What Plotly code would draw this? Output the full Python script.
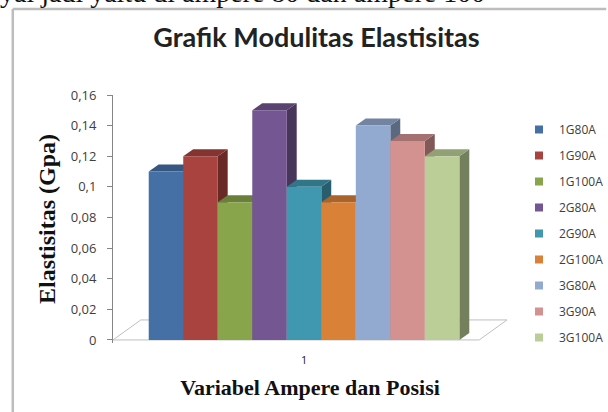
import plotly.graph_objects as go

# ---------------- data ----------------
categories = ["1"]
series_names = ["1G80A", "1G90A", "1G100A", "2G80A", "2G90A", "2G100A",
                "3G80A", "3G90A", "3G100A"]
values = [0.11, 0.12, 0.09, 0.15, 0.10, 0.09, 0.14, 0.13, 0.12]
y_tickvals = [0, 0.02, 0.04, 0.06, 0.08, 0.10, 0.12, 0.14, 0.16]
y_ticktext = ["0", "0,02", "0,04", "0,06", "0,08", "0,1", "0,12", "0,14", "0,16"]

# ---------------- style ----------------
colors = ["#4470A6", "#A9433F", "#88A54B", "#745692", "#3F97B0",
          "#DA8138", "#93AAD0", "#D39190", "#BBCE97"]

W, H = 608, 412
ML, MR, MT, MB = 113, 98, 95, 69
PW, PH = W - ML - MR, H - MT - MB
Y_RANGE = [-0.002, 0.16]
X_RANGE = [-0.5, -0.5 + PW / 385.0]
BARGAP = 0.187

px_x = (X_RANGE[1] - X_RANGE[0]) / PW          # data units per px (x)
px_y = (Y_RANGE[1] - Y_RANGE[0]) / PH          # data units per px (y)
DX, DY = 10 * px_x, 7 * px_y                   # bar depth offset
FDX, FDY = 28 * px_x, 20 * px_y                # floor depth offset
FLOOR_LEN = 369 * px_x


def shade(hex_color, f):
    h = hex_color.lstrip("#")
    r, g, b = (int(h[i:i + 2], 16) for i in (0, 2, 4))
    return "rgb(%d,%d,%d)" % (int(r * f), int(g * f), int(b * f))


fig = go.Figure()

# bars (front faces)
x_pos = list(range(len(categories)))
for name, v, c in zip(series_names, values, colors):
    fig.add_trace(go.Bar(x=x_pos, y=[v], name=name, marker=dict(color=c, line=dict(width=0)),
                         showlegend=False, hoverinfo="name+y"))

# legend entries
for i, (name, c) in enumerate(zip(series_names, colors)):
    fig.add_trace(go.Scatter(x=[None], y=[None], mode="markers", name=name,
                             legendgroup="g%d" % i,
                             marker=dict(symbol="square", size=8, color=c)))

shapes = []
# floor
x0f = X_RANGE[0]
shapes.append(dict(type="path", xref="x", yref="y", layer="below",
                   path="M %f,0 L %f,0 L %f,%f L %f,%f Z" % (
                       x0f, x0f + FLOOR_LEN, x0f + FLOOR_LEN + FDX, FDY, x0f + FDX, FDY),
                   fillcolor="white", line=dict(color="#BFBFBF", width=1)))

# 3D side and top faces derived from bar geometry
n = len(values)
bw = (1 - BARGAP) / n
sides, tops = [], []
for i, (v, c) in enumerate(zip(values, colors)):
    xa = -0.5 + BARGAP / 2 + i * bw
    xb = xa + bw
    sides.append(dict(type="path", xref="x", yref="y", layer="below",
                      path="M %f,0 L %f,%f L %f,%f L %f,%f Z" % (
                          xb, xb + DX, DY, xb + DX, v + DY, xb, v),
                      fillcolor=shade(c, 0.62), line=dict(width=0)))
    tops.append(dict(type="path", xref="x", yref="y", layer="below",
                     path="M %f,%f L %f,%f L %f,%f L %f,%f Z" % (
                         xa, v, xa + DX, v + DY, xb + DX, v + DY, xb, v),
                     fillcolor=shade(c, 0.78), line=dict(width=0)))
shapes += sides + tops

# outer frame lines (page decoration)
fx = lambda p: (p - ML) / PW
fy = lambda p: (H - MB - p) / PH
shapes.append(dict(type="line", xref="paper", yref="paper", x0=fx(12), x1=fx(12),
                   y0=fy(9), y1=fy(H + 2), line=dict(color="#BDBDBD", width=2.5)))
shapes.append(dict(type="line", xref="paper", yref="paper", x0=fx(12), x1=fx(W + 2),
                   y0=fy(9), y1=fy(9), line=dict(color="#BDBDBD", width=2.5)))

fig.update_layout(
    width=W, height=H,
    margin=dict(l=ML, r=MR, t=MT, b=MB, pad=0),
    paper_bgcolor="white", plot_bgcolor="rgba(0,0,0,0)",
    barmode="group", bargap=BARGAP, bargroupgap=0,
    shapes=shapes,
    title=dict(text="<b>Grafik Modulitas Elastisitas</b>", x=316.5 / W, xanchor="center",
               y=1 - 38 / H, yanchor="middle",
               font=dict(family="Lato, Open Sans, sans-serif", size=27, color="#222222")),
    xaxis=dict(range=X_RANGE, tickvals=x_pos, ticktext=categories, showgrid=False,
               zeroline=False, showline=False, ticks="", ticklabelstandoff=9,
               tickfont=dict(family="Open Sans, sans-serif", size=11, color="#222222"),
               title=dict(text="<b>Variabel Ampere dan Posisi</b>", standoff=13,
                          font=dict(family="Liberation Serif, serif", size=22, color="#111111"))),
    yaxis=dict(range=Y_RANGE, tickvals=y_tickvals, ticktext=y_ticktext, showgrid=False,
               zeroline=False, showline=True, linecolor="#868686", linewidth=1,
               ticks="outside", ticklen=5, tickcolor="#868686", ticklabelstandoff=8,
               tickfont=dict(family="Open Sans, sans-serif", size=13, color="#404040"),
               title=dict(text="<b>Elastisitas (Gpa)</b>", standoff=8,
                          font=dict(family="Liberation Serif, serif", size=24, color="#111111"))),
    legend=dict(xref="container", yref="container", x=519 / W, xanchor="left",
                y=1 - 115 / H, yanchor="top", maxheight=295,
                font=dict(family="Open Sans, sans-serif", size=12, color="#404040"),
                tracegroupgap=7, bgcolor="rgba(0,0,0,0)"),
    annotations=[dict(text="yai jadi yaitu di ampere 80 dan ampere 100", xref="paper", yref="paper",
                      x=fx(-3), xanchor="left", y=fy(10), yanchor="bottom", showarrow=False,
                      font=dict(family="Liberation Serif, serif", size=28, color="#111111"))],
    showlegend=True,
)

fig.write_html("out.html", config={"displayModeBar": False},
               post_script="document.body.style.margin='0';")
